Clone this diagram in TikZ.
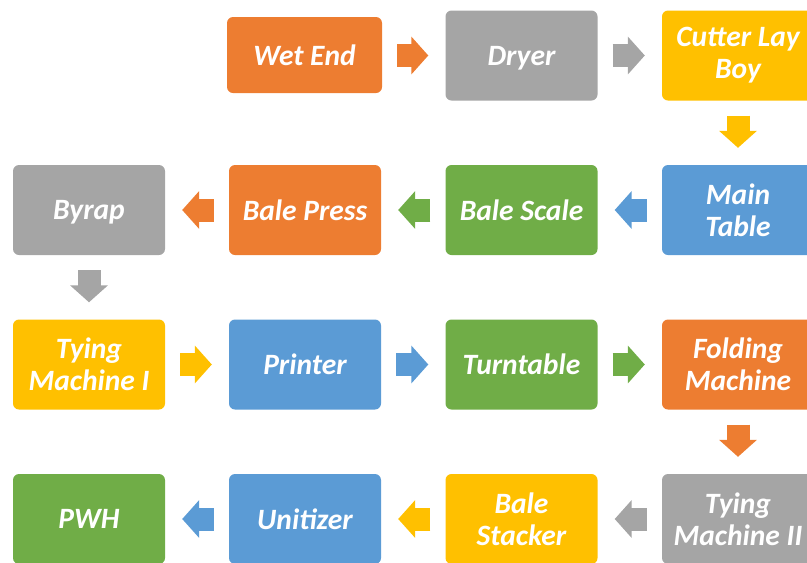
\documentclass[tikz,border=0pt]{standalone}
\usepackage{fontspec}
\setmainfont{Carlito}
\usetikzlibrary{arrows.meta}

\definecolor{cOrange}{HTML}{ED7D31}
\definecolor{cGray}{HTML}{A5A5A5}
\definecolor{cGold}{HTML}{FFC000}
\definecolor{cBlue}{HTML}{5B9BD5}
\definecolor{cGreen}{HTML}{70AD47}

\tikzset{
  stage/.style={rounded corners=6pt, minimum width=152pt, minimum height=90pt,
    inner sep=0pt, text=white, align=center,
    font=\fontsize{29.5}{32}\selectfont\bfseries\itshape, fill=#1},
  oneline/.style={text depth=0pt},
  flow/.style={draw=#1, line width=23pt,
    -{Triangle[width=37pt,length=17pt,fill=#1]},
    shorten <=15pt, shorten >=17pt}
}

\begin{document}
\begin{tikzpicture}[x=1pt,y=-1pt]
  \useasboundingbox (0,0) rectangle (807,563);

  % row 1
  \node[stage=cOrange, oneline, minimum width=155pt, minimum height=76pt] (wet) at (304.5,55) {Wet End};
  \node[stage=cGray, oneline]   (dryer)  at (521.5,55.5) {Dryer};
  \node[stage=cGold]   (cutter) at (738,55.5)   {Cutter Lay\\Boy};
  % row 2
  \node[stage=cBlue]   (main)   at (738,210)    {Main\\Table};
  \node[stage=cGreen, oneline]  (scale)  at (521.5,210)  {Bale Scale};
  \node[stage=cOrange, oneline] (press)  at (305,210)    {Bale Press};
  \node[stage=cGray, oneline]   (byrap)  at (89,210)     {Byrap};
  % row 3
  \node[stage=cGold]   (tie1)   at (89,364.5)   {Tying\\Machine I};
  \node[stage=cBlue, oneline]   (printer) at (305,364.5) {Printer};
  \node[stage=cGreen, oneline]  (turn)   at (521.5,364.5) {Turntable};
  \node[stage=cOrange] (fold)   at (738,364.5)  {Folding\\Machine};
  % row 4
  \node[stage=cGray]   (tie2)   at (738,519)    {Tying\\Machine II};
  \node[stage=cGold]   (stack)  at (521.5,519)  {Bale\\Stacker};
  \node[stage=cBlue, oneline]   (unit)   at (305,519)    {Unitizer};
  \node[stage=cGreen, oneline]  (pwh)    at (89,519)     {PWH};

  % process flow
  \draw[flow=cOrange] (wet.east |- dryer.east) -- (dryer.west);
  \draw[flow=cGray]   (dryer) -- (cutter);
  \draw[flow=cGold]   (cutter) -- (main);
  \draw[flow=cBlue]   (main) -- (scale);
  \draw[flow=cGreen]  (scale) -- (press);
  \draw[flow=cOrange] (press) -- (byrap);
  \draw[flow=cGray]   (byrap) -- (tie1);
  \draw[flow=cGold]   (tie1) -- (printer);
  \draw[flow=cBlue]   (printer) -- (turn);
  \draw[flow=cGreen]  (turn) -- (fold);
  \draw[flow=cOrange] (fold) -- (tie2);
  \draw[flow=cGray]   (tie2) -- (stack);
  \draw[flow=cGold]   (stack) -- (unit);
  \draw[flow=cBlue]   (unit) -- (pwh);
\end{tikzpicture}
\end{document}
